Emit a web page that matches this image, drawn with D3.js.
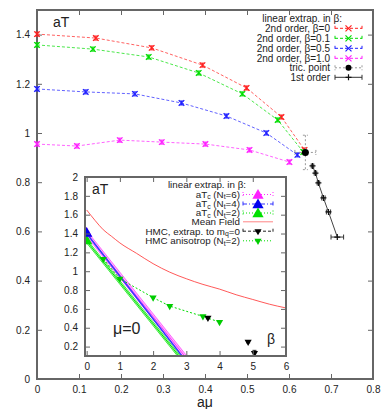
<!DOCTYPE html>
<html>
<head>
<meta charset="utf-8">
<script src="https://cdn.jsdelivr.net/npm/d3@7"></script>
<style>
body { margin: 0; background: #fff; }
text { font-family: "Liberation Sans", Arial, sans-serif; fill: #222; }
</style>
</head>
<body>
<script>
"use strict";

// main plot: second order lines, aT vs a*mu, one per beta
var muB00 = [0, 0.140, 0.273, 0.394, 0.499, 0.582, 0.637];
var tB00  = [1.402, 1.386, 1.346, 1.276, 1.183, 1.065, 0.931];
var muB01 = [0, 0.133, 0.266, 0.385, 0.489, 0.573, 0.634];
var tB01  = [1.358, 1.341, 1.309, 1.244, 1.159, 1.053, 0.923];
var muB05 = [0, 0.116, 0.233, 0.344, 0.451, 0.546, 0.620];
var tB05  = [1.179, 1.167, 1.159, 1.122, 1.069, 1.000, 0.911];
var muB10 = [0, 0.095, 0.197, 0.297, 0.401, 0.506, 0.601];
var tB10  = [0.955, 0.947, 0.971, 0.963, 0.955, 0.931, 0.882];
var secondLabels = ["2nd order, \u03b2=0", "2nd order, \u03b2=0.1", "2nd order, \u03b2=0.5", "2nd order, \u03b2=1.0"];
var secondColors = ["#ff2020", "#00dd00", "#2020ff", "#ff20ff"];

// tricritical point
var tricMu = 0.639, tricT = 0.921, tricMuErr = 0.025, tricTErr = 0.07;

// first order line
var firstMu  = [0.656, 0.663, 0.670, 0.682, 0.694, 0.715];
var firstT   = [0.866, 0.837, 0.797, 0.736, 0.679, 0.577];
var firstErr = [0.003, 0.003, 0.003, 0.004, 0.005, 0.015];

// axis ticks
var mainXTicks = [0, 0.1, 0.2, 0.3, 0.4, 0.5, 0.6, 0.7, 0.8];
var mainYTicks = [0, 0.2, 0.4, 0.6, 0.8, 1, 1.2, 1.4];
var insetXTicks = [0, 1, 2, 3, 4, 5, 6];
var insetYTicks = [0.2, 0.4, 0.6, 0.8, 1, 1.2, 1.4, 1.6, 1.8, 2];

// inset: linear extrapolation in beta at mu=0
var ntLabels = ["6", "4", "2"];
var ntT0     = [1.40, 1.40, 1.32];
var ntSlope  = [-0.441, -0.453, -0.439];
var ntBand   = [0.03, 0.008, 0.02];
var ntColors = ["#ff30ff", "#3030ff", "#00e000"];
var ntFills  = ["#ffa8ff", "#a8a8ff", "#b0ffb0"];

// inset: mean field
var mfBeta = [0, 0.25, 0.5, 0.75, 1, 1.5, 2, 2.5, 3, 3.5, 4, 4.5, 5, 5.5, 6];
var mfT    = [1.65, 1.54, 1.44, 1.37, 1.30, 1.19, 1.08, 0.99, 0.92, 0.86, 0.81, 0.75, 0.70, 0.65, 0.61];

// inset: HMC
var hmcBeta = [3.65, 4.86, 5.05];
var hmcT    = [0.505, 0.25, 0.13];
var hmcErr  = [0.01, 0.01, 0.03];
var anisoBeta = [0.5, 1.0, 2.0, 2.5, 3.5, 4.0];
var anisoT    = [1.13, 0.92, 0.72, 0.63, 0.52, 0.46];

var svg = d3.select("body").append("svg")
	.attr("width", 390)
	.attr("height", 409);

var fmt = function (d) { return String(+d.toFixed(1)); };

function frame(g, xs, ys, xt, yt) {
	// ticks on all four sides, pointing inside, gnuplot style
	g.append("g").attr("transform", "translate(0," + ys.range()[0] + ")")
		.call(d3.axisBottom(xs).tickValues(xt).tickSize(-5).tickPadding(7).tickFormat(fmt));
	g.append("g").attr("transform", "translate(0," + ys.range()[1] + ")")
		.call(d3.axisTop(xs).tickValues(xt).tickSize(-5).tickFormat(""));
	g.append("g").attr("transform", "translate(" + xs.range()[0] + ",0)")
		.call(d3.axisLeft(ys).tickValues(yt).tickSize(-5).tickPadding(7).tickFormat(fmt));
	g.append("g").attr("transform", "translate(" + xs.range()[1] + ",0)")
		.call(d3.axisRight(ys).tickValues(yt).tickSize(-5).tickFormat(""));
	g.selectAll(".domain").remove();
	g.selectAll(".tick line").attr("stroke", "#666").attr("stroke-width", 1);
	g.selectAll(".tick text").attr("font-size", 10).attr("fill", "#222")
		.attr("font-family", "Liberation Sans, Arial, sans-serif");
	g.append("rect")
		.attr("x", xs.range()[0]).attr("y", ys.range()[1])
		.attr("width", xs.range()[1] - xs.range()[0])
		.attr("height", ys.range()[0] - ys.range()[1])
		.attr("fill", "none").attr("stroke", "#666").attr("stroke-width", 2);
}

function cross(g, cx, cy, r, color) {
	g.append("path")
		.attr("d", "M" + (cx - r) + "," + (cy - r) + "L" + (cx + r) + "," + (cy + r) +
			"M" + (cx - r) + "," + (cy + r) + "L" + (cx + r) + "," + (cy - r))
		.attr("stroke", color).attr("stroke-width", 1.2);
}

function plus(g, cx, cy, r, color) {
	g.append("path")
		.attr("d", "M" + (cx - r) + "," + cy + "L" + (cx + r) + "," + cy +
			"M" + cx + "," + (cy - r) + "L" + cx + "," + (cy + r))
		.attr("stroke", color).attr("stroke-width", 1.2);
}

function vbar(g, cx, y1, y2, cap, color, dash) {
	g.append("path")
		.attr("d", "M" + cx + "," + y1 + "L" + cx + "," + y2 +
			"M" + (cx - cap) + "," + y1 + "L" + (cx + cap) + "," + y1 +
			"M" + (cx - cap) + "," + y2 + "L" + (cx + cap) + "," + y2)
		.attr("stroke", color).attr("stroke-width", 1).attr("fill", "none")
		.attr("stroke-dasharray", dash || null);
}

function hbar(g, cy, x1, x2, cap, color, dash) {
	g.append("path")
		.attr("d", "M" + x1 + "," + cy + "L" + x2 + "," + cy +
			"M" + x1 + "," + (cy - cap) + "L" + x1 + "," + (cy + cap) +
			"M" + x2 + "," + (cy - cap) + "L" + x2 + "," + (cy + cap))
		.attr("stroke", color).attr("stroke-width", 1).attr("fill", "none")
		.attr("stroke-dasharray", dash || null);
}

// right-aligned text made of pieces; pieces starting with "_" are subscripts
function richText(g, xEnd, yBase, parts, size) {
	var t = g.append("text").attr("x", 0).attr("y", yBase).attr("font-size", size);
	var lowered = false;
	parts.forEach(function (p) {
		if (p.charAt(0) === "_") {
			t.append("tspan").attr("font-size", size * 0.7).attr("dy", lowered ? 0 : 1.5).text(p.slice(1));
			lowered = true;
		} else {
			t.append("tspan").attr("dy", lowered ? -1.5 : 0).text(p);
			lowered = false;
		}
	});
	var w = t.node().getComputedTextLength();
	t.attr("x", xEnd - w);
	return t;
}

// ---------- main plot ----------
var x = d3.scaleLinear().domain([0, 0.8]).range([37, 373]);
var y = d3.scaleLinear().domain([0, 1.5]).range([379, 10]);

var main = svg.append("g");
frame(main, x, y, mainXTicks, mainYTicks);

var secondMu = [muB00, muB01, muB05, muB10];
var secondT = [tB00, tB01, tB05, tB10];
var line = d3.line();

secondMu.forEach(function (mus, k) {
	var pts = mus.map(function (m, i) { return [x(m), y(secondT[k][i])]; });
	main.append("path")
		.attr("d", line(pts))
		.attr("fill", "none")
		.attr("stroke", secondColors[k])
		.attr("stroke-opacity", 0.7)
		.attr("stroke-dasharray", "3,2");
	pts.forEach(function (p) {
		vbar(main, p[0], p[1] - 2, p[1] + 2, 2, secondColors[k]);
		cross(main, p[0], p[1], 2.8, secondColors[k]);
	});
});

// tricritical point
vbar(main, x(tricMu), y(tricT + tricTErr), y(tricT - tricTErr), 2.5, "#999", "2,2");
hbar(main, y(tricT), x(tricMu - tricMuErr), x(tricMu + tricMuErr), 2.5, "#999", "2,2");
main.append("circle").attr("cx", x(tricMu)).attr("cy", y(tricT)).attr("r", 3.5).attr("fill", "#000");

// first order line
main.append("path")
	.attr("d", line(firstMu.map(function (m, i) { return [x(m), y(firstT[i])]; })))
	.attr("fill", "none").attr("stroke", "#444").attr("stroke-width", 1);
firstMu.forEach(function (m, i) {
	hbar(main, y(firstT[i]), x(m - firstErr[i]), x(m + firstErr[i]), 2.5, "#333");
	plus(main, x(m), y(firstT[i]), 3, "#111");
});

main.append("text").attr("x", 53).attr("y", 27).attr("font-size", 14).text("aT");
main.append("text").attr("x", 205).attr("y", 407).attr("font-size", 14)
	.attr("text-anchor", "middle").text("a\u03bc");

// main legend
var leg = svg.append("g").attr("font-size", 10);
var lx0 = 335, lx1 = 362, ltx = 330;
leg.append("text").attr("x", 342).attr("y", 21.5).attr("text-anchor", "end")
	.text("linear extrap. in \u03b2:");
secondLabels.forEach(function (lab, k) {
	var yy = 28.3 + 10 * k;
	leg.append("text").attr("x", ltx).attr("y", yy + 3.5).attr("text-anchor", "end").text(lab);
	hbar(leg, yy, lx0, lx1, 2.5, secondColors[k], "3,2");
	cross(leg, (lx0 + lx1) / 2, yy, 3, secondColors[k]);
});
leg.append("text").attr("x", ltx).attr("y", 71.3).attr("text-anchor", "end").text("tric. point");
hbar(leg, 67.8, lx0, lx1, 2.5, "#999", "2,2");
leg.append("circle").attr("cx", (lx0 + lx1) / 2).attr("cy", 67.8).attr("r", 3).attr("fill", "#000");
leg.append("text").attr("x", ltx).attr("y", 80.8).attr("text-anchor", "end").text("1st order");
hbar(leg, 77.3, lx0, lx1, 2.5, "#333");
plus(leg, (lx0 + lx1) / 2, 77.3, 3, "#111");

// ---------- inset ----------
var xi = d3.scaleLinear().domain([-0.05, 6]).range([85, 286]);
var yi = d3.scaleLinear().domain([0.1, 2]).range([356, 177]);

var inset = svg.append("g");
inset.append("rect").attr("x", 85).attr("y", 177).attr("width", 201).attr("height", 179).attr("fill", "#fff");

svg.append("clipPath").attr("id", "insetClip")
	.append("rect").attr("x", 85).attr("y", 177).attr("width", 201).attr("height", 179);
var plotArea = inset.append("g").attr("clip-path", "url(#insetClip)");

// extrapolation bands
ntLabels.forEach(function (nt, k) {
	var b0 = 0, b1 = 3.6;
	var top = [[b0, ntT0[k] + ntBand[k]], [b1, ntT0[k] + ntSlope[k] * b1 + ntBand[k]]];
	var bot = [[b1, ntT0[k] + ntSlope[k] * b1 - ntBand[k]], [b0, ntT0[k] - ntBand[k]]];
	var toPx = function (p) { return [xi(p[0]), yi(p[1])]; };
	plotArea.append("path").attr("d", line(top.concat(bot).map(toPx)) + "Z")
		.attr("fill", ntFills[k]).attr("fill-opacity", 0.85);
	plotArea.append("path").attr("d", line(top.map(toPx)))
		.attr("stroke", ntColors[k]).attr("stroke-width", 0.7).attr("fill", "none");
	plotArea.append("path").attr("d", line(bot.map(toPx)))
		.attr("stroke", ntColors[k]).attr("stroke-width", 0.7).attr("fill", "none");
	plotArea.append("path").attr("d", line([[b0, ntT0[k]], [b1, ntT0[k] + ntSlope[k] * b1]].map(toPx)))
		.attr("stroke", ntColors[k]).attr("stroke-width", 1).attr("fill", "none");
});

// mean field
plotArea.append("path")
	.attr("d", d3.line().curve(d3.curveMonotoneX)(mfBeta.map(function (b, i) { return [xi(b), yi(mfT[i])]; })))
	.attr("fill", "none").attr("stroke", "#ff3030").attr("stroke-opacity", 0.8);

// HMC anisotropic
plotArea.append("path")
	.attr("d", line(anisoBeta.map(function (b, i) { return [xi(b), yi(anisoT[i])]; })))
	.attr("fill", "none").attr("stroke", "#00dd00").attr("stroke-dasharray", "2,2");
var triDown = d3.symbol().type(d3.symbolTriangle).size(22);
anisoBeta.forEach(function (b, i) {
	plotArea.append("path").attr("d", triDown())
		.attr("transform", "translate(" + xi(b) + "," + yi(anisoT[i]) + ") rotate(180)")
		.attr("fill", "#00cc00");
});

// HMC extrapolated to mq=0
hmcBeta.forEach(function (b, i) {
	vbar(plotArea, xi(b), yi(hmcT[i] + hmcErr[i]), yi(hmcT[i] - hmcErr[i]), 2, "#222");
	plotArea.append("path").attr("d", triDown())
		.attr("transform", "translate(" + xi(b) + "," + yi(hmcT[i]) + ") rotate(180)")
		.attr("fill", "#000");
});

// beta = 0 points
var triUp = d3.symbol().type(d3.symbolTriangle).size(55);
var triFill = ["#ff20ff", "#0000ee", "#00e000"];
[0, 2, 1].forEach(function (k) {
	plotArea.append("path").attr("d", triUp())
		.attr("transform", "translate(" + xi(0) + "," + yi(ntT0[k]) + ")")
		.attr("fill", triFill[k]);
});

frame(inset, xi, yi, insetXTicks, insetYTicks);

inset.append("text").attr("x", 92).attr("y", 194).attr("font-size", 14).text("aT");
inset.append("text").attr("x", 113).attr("y", 334).attr("font-size", 16).text("\u03bc=0");
inset.append("text").attr("x", 267).attr("y", 344).attr("font-size", 14).text("\u03b2");

// inset legend
var il = inset.append("g");
var ix0 = 243, ix1 = 273, itx = 240, fs = 9.8;
var rowY = [185, 194.5, 204, 213, 221.8, 231.2, 240.8];
richText(il, 246, rowY[0] + 3.3, ["linear extrap. in \u03b2:"], fs);
var insetDash = ["1,2", "4,2,1,2", "1,2"];
ntLabels.forEach(function (nt, k) {
	var yy = rowY[k + 1];
	richText(il, itx, yy + 3.3, ["aT", "_c", " (N", "_t", "=" + nt + ")"], fs);
	hbar(il, yy, ix0, ix1, 2.5, ntColors[k], insetDash[k]);
	il.append("path").attr("d", triUp())
		.attr("transform", "translate(" + (ix0 + ix1) / 2 + "," + (yy + 1) + ")")
		.attr("fill", triFill[k]);
});
richText(il, itx, rowY[4] + 3.3, ["Mean Field"], fs);
il.append("path").attr("d", "M" + ix0 + "," + rowY[4] + "L" + ix1 + "," + rowY[4])
	.attr("stroke", "#ff5050").attr("stroke-opacity", 0.7);

richText(il, itx, rowY[5] + 3.3, ["HMC, extrap. to m", "_q", "=0"], fs);
hbar(il, rowY[5], ix0, ix1, 2.5, "#222", "3,2");
il.append("path").attr("d", triDown())
	.attr("transform", "translate(" + (ix0 + ix1) / 2 + "," + rowY[5] + ") rotate(180)").attr("fill", "#000");

richText(il, itx, rowY[6] + 3.3, ["HMC anisotrop (N", "_t", "=2)"], fs);
il.append("path").attr("d", "M" + ix0 + "," + rowY[6] + "L" + ix1 + "," + rowY[6])
	.attr("stroke", "#00dd00").attr("stroke-dasharray", "1,2");
il.append("path").attr("d", triDown())
	.attr("transform", "translate(" + (ix0 + ix1) / 2 + "," + rowY[6] + ") rotate(180)").attr("fill", "#00cc00");
</script>
</body>
</html>
